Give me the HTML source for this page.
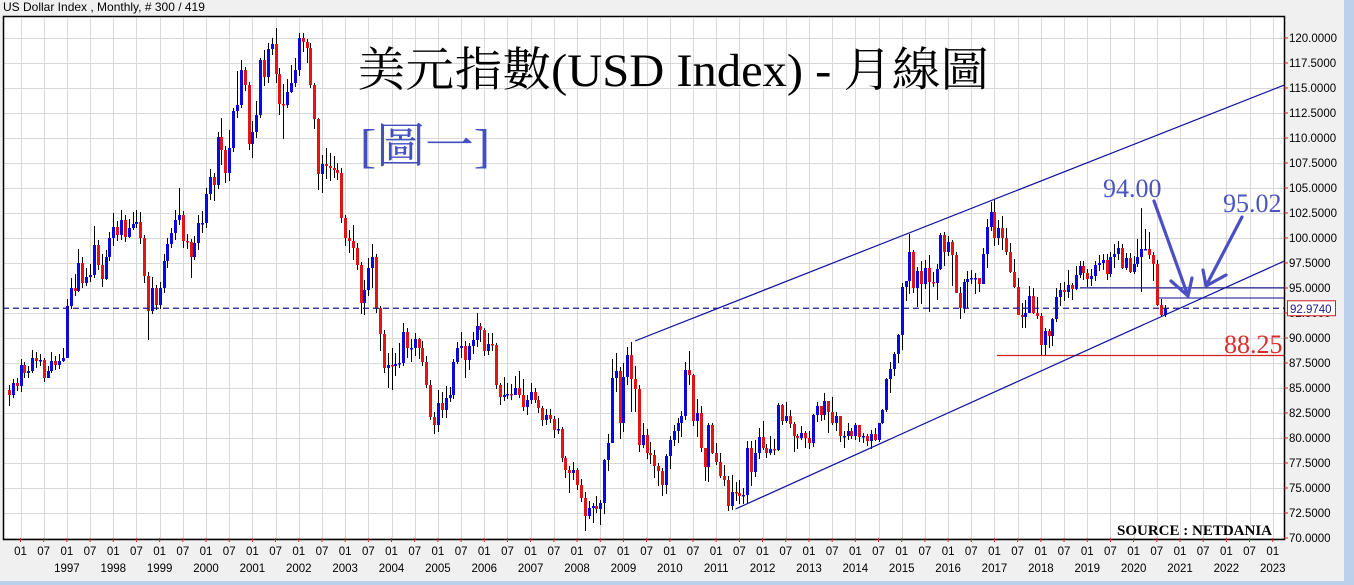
<!DOCTYPE html>
<html><head><meta charset="utf-8">
<style>
html,body{margin:0;padding:0;background:#f0f0f0;}
#wrap{position:relative;width:1354px;height:585px;overflow:hidden;background:#f0f0f0;font-family:"Liberation Sans",sans-serif;}
svg{position:absolute;left:0;top:0;}
</style></head>
<body>
<div id="wrap">
<svg id="chart" width="1354" height="585"></svg>
</div>
<script>
// 月線 data: 1995-10 .. 2020-09 (300 candles)
const startYear = 1995, startMonth = 10;
const firstOpen = 84.8;
const closes = [
84.3,85.5,85.2,
87.3,86.5,86.7,88.0,87.7,87.8,86.0,86.7,87.7,87.3,87.7,88.0,
93.2,95.0,94.7,97.5,95.5,96.1,96.3,99.3,97.3,95.9,98.1,100.0,
101.1,100.3,101.8,100.1,101.0,101.4,101.6,100.0,96.2,92.7,95.0,93.3,
95.0,97.7,99.4,100.5,101.8,102.3,99.7,99.6,98.1,99.5,101.5,101.5,
104.4,106.1,105.3,110.1,108.8,106.5,109.0,112.7,113.3,116.8,115.3,109.4,
110.6,112.3,117.8,116.1,118.9,119.4,116.4,113.4,113.3,114.6,115.5,116.8,
120.0,119.6,119.0,115.3,111.9,106.4,107.4,107.2,107.0,106.8,106.5,102.0,
100.0,99.7,99.0,97.3,93.5,94.8,97.0,98.1,93.0,90.4,87.0,87.3,
87.2,87.4,87.5,90.6,89.0,89.0,89.9,89.0,87.6,85.3,82.1,81.3,
83.5,82.8,84.0,84.3,87.6,89.0,89.2,87.8,89.2,89.8,91.2,90.8,
88.7,89.4,89.3,85.3,84.1,84.3,84.4,84.3,85.0,84.3,83.1,83.8,
84.6,83.8,83.0,81.8,82.3,81.9,80.8,80.9,78.0,76.8,76.5,76.8,
75.3,74.0,72.2,73.0,73.2,72.9,73.5,77.8,79.5,86.0,86.7,81.5,
86.1,88.3,85.9,84.9,79.3,80.3,78.5,78.3,77.2,76.7,75.3,78.2,
79.8,80.7,81.5,82.2,86.8,86.3,81.7,82.5,79.0,77.1,81.3,78.5,
77.6,76.2,75.8,73.2,74.6,74.5,74.2,74.3,79.0,76.6,78.5,80.1,
79.0,78.5,78.9,78.8,83.3,81.7,82.2,81.4,80.2,80.0,80.5,80.0,
79.5,82.3,83.2,82.3,83.7,82.6,81.5,82.2,80.2,80.2,80.7,80.2,
81.3,80.1,80.2,79.7,80.4,79.8,81.5,82.8,85.9,86.9,88.4,90.3,
95.1,95.7,98.6,95.0,96.7,95.4,97.0,95.6,95.5,96.9,100.3,98.6,
99.6,98.3,94.5,93.0,95.6,95.9,96.0,96.0,95.4,98.4,101.1,102.6,
100.0,101.0,100.0,98.6,96.6,95.1,92.3,92.1,92.5,94.2,92.5,92.2,
89.3,90.7,90.2,91.9,94.1,94.8,94.6,95.3,94.9,96.3,97.2,96.5,
95.9,96.2,97.3,97.5,97.8,96.4,98.1,98.4,99.0,97.0,98.0,96.6,
97.4,98.1,98.9,98.9,98.3,97.4,93.3,92.3,92.97];
const highs = [
85.3,85.9,86.0,
87.9,87.6,87.2,88.8,88.6,88.4,88.0,87.2,88.6,88.2,88.4,89.0,
93.9,96.0,96.4,98.9,98.1,97.0,97.4,101.2,99.8,98.4,98.8,100.6,
102.5,101.7,102.8,102.3,101.9,102.6,102.8,102.6,100.3,96.6,96.1,95.3,
95.6,98.4,100.0,101.0,102.8,105.0,102.7,100.4,99.9,100.2,102.3,102.7,
105.0,106.9,106.5,110.6,112.0,109.2,110.8,113.0,116.7,117.8,117.1,115.6,
111.7,113.7,118.0,118.8,119.5,120.0,121.0,117.0,115.4,115.9,117.3,118.0,
120.5,120.5,119.9,119.5,115.5,112.0,108.3,109.0,108.5,108.2,107.5,107.0,
102.3,100.8,101.3,99.5,97.6,95.8,98.0,99.4,98.4,93.2,90.8,88.5,
89.0,88.5,89.5,91.5,91.0,89.9,90.5,90.0,89.7,88.2,85.8,82.6,
84.8,84.6,85.2,85.1,87.9,89.6,90.6,89.7,89.5,90.6,92.5,91.5,
91.0,90.5,90.5,89.5,85.5,86.1,85.5,85.4,86.2,86.7,85.9,84.3,
85.5,85.0,84.2,83.2,82.9,82.9,82.2,82.0,81.1,78.2,77.2,77.6,
77.0,75.9,74.6,73.7,73.5,74.2,73.8,77.9,80.4,87.9,88.5,87.1,
87.5,89.1,89.6,87.2,85.3,81.5,80.9,79.6,78.8,77.5,77.0,78.4,
80.2,81.3,82.0,82.7,87.6,88.7,86.4,83.9,83.2,78.7,81.5,81.5,
79.5,78.5,77.3,76.2,76.3,75.6,75.8,75.0,79.7,79.7,79.8,81.0,
81.7,79.4,80.2,79.9,83.5,83.4,83.6,82.8,81.6,80.4,81.2,80.7,
80.7,82.4,83.6,83.1,84.5,83.7,84.1,82.6,82.2,80.7,81.5,81.0,
81.5,81.2,80.5,80.4,80.8,81.0,81.5,82.9,86.0,87.6,88.6,90.4,
95.5,95.7,100.4,98.8,97.1,97.7,97.8,98.3,96.6,97.4,100.5,100.6,
100.2,99.8,98.6,95.1,95.9,96.7,96.8,96.5,96.0,99.0,101.9,103.6,
103.8,101.8,102.2,101.0,99.5,97.9,96.0,93.5,93.8,95.2,95.0,94.1,
92.5,91.0,90.9,92.0,95.0,95.5,95.6,96.8,95.5,97.2,97.7,97.7,
96.9,96.9,97.7,98.3,98.4,98.4,98.6,99.4,99.7,99.4,98.5,98.5,
98.2,99.9,103.0,100.9,100.6,98.6,97.8,93.9,93.3];
const lows = [
83.2,84.0,84.7,
84.6,86.0,86.0,86.5,87.0,87.2,85.6,86.0,86.5,86.8,86.9,87.6,
88.0,92.9,94.2,94.6,95.0,95.2,95.6,96.0,96.8,95.1,95.8,97.7,
99.2,99.7,99.8,99.6,100.0,100.8,101.0,99.4,95.5,89.8,92.4,92.8,
92.9,94.5,97.0,99.0,99.8,101.3,99.0,98.9,96.0,97.8,98.8,100.5,
101.0,103.8,103.7,104.9,107.3,105.5,105.7,108.6,112.0,113.0,114.7,108.8,
108.0,110.0,112.0,115.2,115.5,118.3,115.5,112.3,109.9,113.0,114.5,115.1,
116.2,118.6,117.5,115.0,110.9,104.8,104.5,105.9,105.7,106.0,105.8,101.5,
99.2,98.5,97.8,96.8,92.4,92.3,94.2,95.0,92.5,88.7,86.5,85.0,
84.8,86.2,87.0,87.2,88.0,87.6,88.2,87.9,87.2,85.0,81.8,80.4,
80.6,82.0,82.0,83.6,83.9,87.4,88.0,86.0,86.8,88.4,89.1,89.6,
88.2,88.3,88.7,84.9,83.3,83.7,83.9,83.8,84.5,84.0,82.7,82.3,
83.4,83.5,82.5,81.2,81.3,81.5,80.0,80.4,77.6,76.0,74.5,75.8,
74.8,73.6,70.7,71.9,71.5,72.5,71.3,72.4,76.7,79.8,84.6,79.9,
80.6,85.3,82.6,82.6,78.6,79.0,77.9,77.4,76.0,75.2,74.2,74.4,
76.9,79.2,79.5,80.1,81.8,85.3,81.2,80.1,78.6,75.7,75.6,78.4,
77.3,76.0,75.2,72.7,72.8,73.7,73.4,73.4,73.5,75.2,76.1,77.9,
78.8,78.0,78.3,78.3,78.7,81.3,81.5,81.0,78.6,78.9,79.8,79.0,
78.9,79.1,81.6,81.7,81.8,80.5,81.3,80.7,79.6,79.0,79.8,79.9,
79.8,79.6,79.5,79.2,78.9,79.7,79.6,81.4,82.6,84.5,86.2,87.5,
88.8,93.7,94.4,94.5,93.1,93.4,94.9,92.6,95.1,93.8,96.8,97.2,
98.2,95.2,94.5,91.9,92.5,93.0,95.4,94.4,94.6,95.4,97.0,100.7,
99.2,99.3,98.8,98.3,96.5,95.0,92.3,91.0,91.0,92.5,92.4,91.9,
88.3,88.2,89.0,89.2,91.6,93.2,93.7,94.0,93.8,94.8,96.0,95.8,
95.1,95.2,95.7,96.7,96.8,95.8,96.1,97.0,97.8,96.9,96.8,96.5,
96.4,97.1,94.6,98.8,97.9,95.7,93.2,92.1,92.1];
const yTicks = [70,72.5,75,77.5,80,82.5,85,87.5,90,92.5,95,97.5,100,102.5,105,107.5,110,112.5,115,117.5,120];
const xYears = [1997,1998,1999,2000,2001,2002,2003,2004,2005,2006,2007,2008,2009,2010,2011,2012,2013,2014,2015,2016,2017,2018,2019,2020,2021,2022,2023];
const lastPrice = 92.974;
const levelA = 95.02, levelB = 94.00, levelC = 88.25;
// channel anchor points [year, month, value]
const upperChannel = [[2009,4,89.7],[2023,4,115.3]];
const lowerChannel = [[2011,6,72.9],[2023,4,97.7]];

const NS = "http://www.w3.org/2000/svg";
const svg = document.getElementById('chart');
const PL = 3, PT = 16, PR = 1284, PB = 539;
function yS(v){ return 38 + (120 - v) * 10.0; }
function xM(year, month){ return 20.5 + ((year - 1996) * 12 + (month - 1)) * 3.865; }
function xI(i){ const m = (startYear - 1996) * 12 + (startMonth - 1) + i; return 20.5 + m * 3.865; }
function mk(tag, attrs, parent){ const e = document.createElementNS(NS, tag); for (const k in attrs) e.setAttribute(k, attrs[k]); (parent || svg).appendChild(e); return e; }

let t = mk('text', {x:3, y:11, 'font-size':12, fill:'#000', 'font-family':'Liberation Sans, sans-serif'});
t.textContent = 'US Dollar Index , Monthly, # 300 / 419';



let sb = mk('rect', {x:1344, y:0, width:10, height:585, fill:'#b9d1ea'});


let bb = mk('rect', {x:0, y:581, width:1354, height:4, fill:'#b9d1ea'});



let pa = mk('rect', {x:PL, y:PT, width:PR-PL, height:PB-PT, fill:'#fff'});



const grid = mk('g', {stroke:'#d9d9d9', 'stroke-width':1});


for (const v of yTicks.concat([122.5])) {
  const y = Math.round(yS(v)) + 0.5;
  if (y < PT) continue;
  const l = mk('line', {x1:PL, x2:PR, y1:y, y2:y}, grid);
  
  
}
const xTickList = [];
xTickList.push([1996,1]); xTickList.push([1996,7]);
for (const yr of xYears) { xTickList.push([yr,1]); if (yr < 2023) xTickList.push([yr,7]); }
for (const [yr, mo] of xTickList) {
  const x = Math.round(xM(yr, mo)) + 0.5;
  const l = mk('line', {x1:x, x2:x, y1:PT, y2:PB}, grid);
  
  
}

const cg = mk('g', {});


let prev = firstOpen;
for (let i = 0; i < closes.length; i++) {
  const o = prev, c = closes[i];
  const x = Math.round(xI(i));
  const w = mk('line', {x1:x+0.5, x2:x+0.5, y1:yS(highs[i]), y2:yS(lows[i]), stroke:'#000', 'stroke-width':1}, cg);
  
  
  const top = yS(Math.max(o, c)), bot = yS(Math.min(o, c));
  const b = mk('rect', {x:x-1, y:top, width:3, height:Math.max(1.5, bot-top), fill: c >= o ? '#0a0adc' : '#e01515'}, cg);
  
  
  prev = c;
}

let dl = mk('line', {x1:PL, x2:PR, y1:yS(lastPrice), y2:yS(lastPrice), stroke:'#1a1a8c', 'stroke-width':1.3, 'stroke-dasharray':'6,4'});


let la = mk('line', {x1:1080, x2:PR, y1:yS(levelA), y2:yS(levelA), stroke:'#3a3aa0', 'stroke-width':1.3});


let lb = mk('line', {x1:1158, x2:PR, y1:yS(levelB), y2:yS(levelB), stroke:'#3a3aa0', 'stroke-width':1.3});


let lc = mk('line', {x1:997, x2:PR, y1:yS(levelC), y2:yS(levelC), stroke:'#d42020', 'stroke-width':1.3});



function chan(pts, name){
  const x1 = xM(pts[0][0], pts[0][1]), y1 = yS(pts[0][2]);
  const x2 = xM(pts[1][0], pts[1][1]), y2 = yS(pts[1][2]);
  const xe = PR, ye = y1 + (y2 - y1) * (xe - x1) / (x2 - x1);
  const l = mk('line', {x1:x1, y1:y1, x2:xe, y2:ye, stroke:'#1010a0', 'stroke-width':1.2});
  
  
}
chan(upperChannel, 'upper-channel-line');
chan(lowerChannel, 'lower-channel-line');

const ag = mk('g', {stroke:'#4a4fc4', 'stroke-width':3.2, fill:'none', 'stroke-linecap':'round'});


let a1 = mk('path', {d:'M1154 201 L1188 296 M1171 281 L1188 296 L1192 278'}, ag);


let a2 = mk('path', {d:'M1242 217 L1206 286 M1203 270 L1206 286 L1226 275'}, ag);



let fr = mk('rect', {x:PL+0.5, y:PT+0.5, width:PR-PL, height:PB-PT, fill:'none', stroke:'#000', 'stroke-width':1.5});



for (const v of yTicks) {
  const y = yS(v);
  const tk = mk('line', {x1:PR, x2:PR+4, y1:y, y2:y, stroke:'#d42020', 'stroke-width':1});
  
  
  const tx = mk('text', {x:PR+5, y:y+4, 'font-size':11.5, fill:'#000', 'font-family':'Liberation Sans, sans-serif'});
  tx.textContent = v.toFixed(4);
  
  
}
let pb = mk('rect', {x:1287.5, y:yS(lastPrice)-7.5, width:48, height:15, fill:'#fff', stroke:'#d42020', 'stroke-width':1});


let pt = mk('text', {x:1290, y:yS(lastPrice)+4.5, 'font-size':11.5, fill:'#1a1a8c', 'font-family':'Liberation Sans, sans-serif'});
pt.textContent = lastPrice.toFixed(4);



for (const [yr, mo] of xTickList) {
  const x = xM(yr, mo);
  const tk = mk('line', {x1:x, x2:x, y1:PB-1, y2:PB+3, stroke:'#d42020', 'stroke-width':1});
  
  
  const tx = mk('text', {x:x, y:555, 'font-size':11.5, fill:'#000', 'text-anchor':'middle', 'font-family':'Liberation Sans, sans-serif'});
  tx.textContent = mo === 1 ? '01' : '07';
  
  
}
for (const yr of xYears) {
  const tx = mk('text', {x:xM(yr,1), y:572, 'font-size':11.5, fill:'#000', 'text-anchor':'middle', 'font-family':'Liberation Sans, sans-serif'});
  tx.textContent = String(yr);
  
  
}

const serif = '"Liberation Serif", "Noto Serif CJK TC", "Noto Serif CJK SC", serif';
let tt = mk('text', {x:357, y:86, 'font-size':47, fill:'#000', 'font-family':serif, textLength:632, lengthAdjust:'spacingAndGlyphs'});
tt.textContent = '美元指數(USD Index) - 月線圖';


let fg = mk('text', {x:360, y:162, 'font-size':48, fill:'#4350bd', 'font-family':serif, textLength:130, lengthAdjust:'spacingAndGlyphs'});
fg.textContent = '[圖一]';


let n1 = mk('text', {x:1103, y:197, 'font-size':26, fill:'#4a55c0', 'font-family':serif});
n1.textContent = '94.00';


let n2 = mk('text', {x:1223, y:212, 'font-size':26, fill:'#4a55c0', 'font-family':serif});
n2.textContent = '95.02';


let n3 = mk('text', {x:1224, y:353, 'font-size':26, fill:'#dd2a2a', 'font-family':serif});
n3.textContent = '88.25';


let src = mk('text', {x:1117, y:535, 'font-size':15, 'font-weight':'bold', fill:'#000', 'font-family':serif});
src.textContent = 'SOURCE : NETDANIA';


</script>
</body></html>
